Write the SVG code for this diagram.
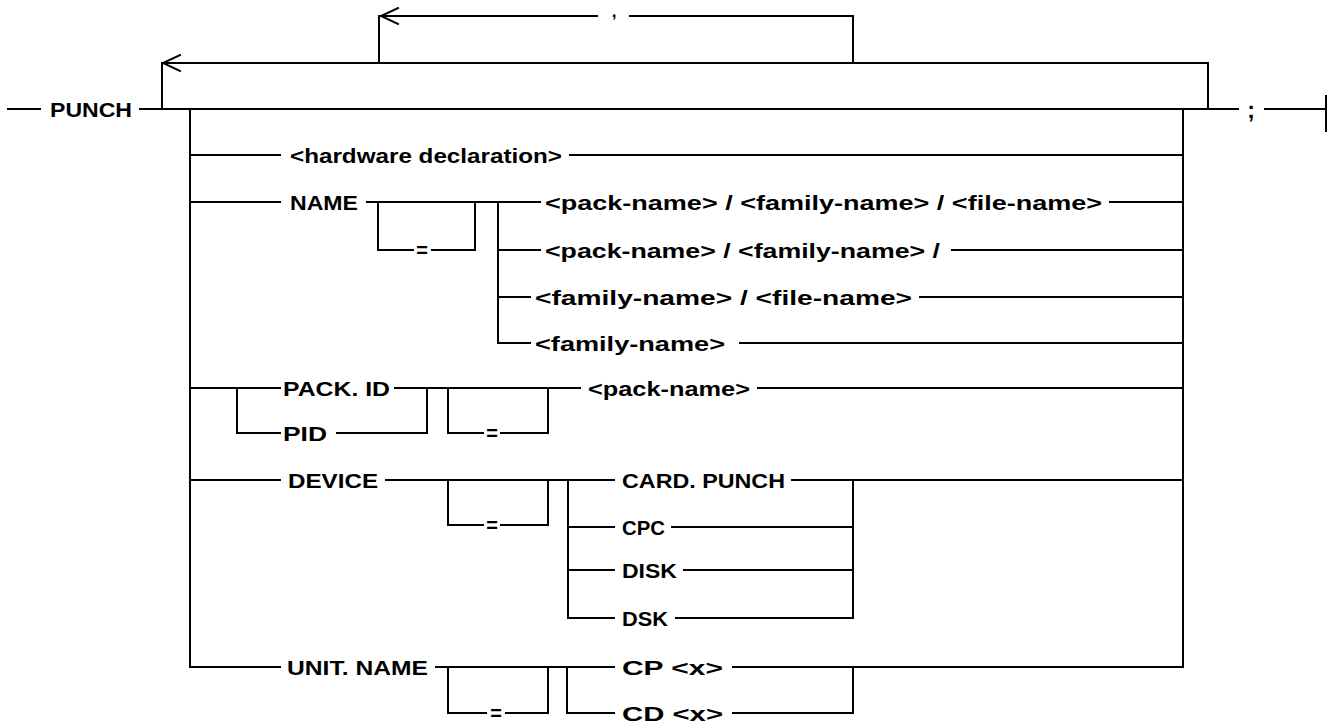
<svg xmlns="http://www.w3.org/2000/svg" width="1327" height="724" viewBox="0 0 1327 724">
<style>
.ln{stroke:#000;stroke-width:2;fill:none;stroke-linecap:square}
.t{font-family:"Liberation Sans",Arial,Helvetica,sans-serif;font-weight:bold;font-size:21px;fill:#000}
.eq{font-family:"Liberation Sans",Arial,Helvetica,sans-serif;font-weight:bold;font-size:20px;fill:#000;text-anchor:middle}
.p{font-family:"Liberation Sans",Arial,Helvetica,sans-serif;font-weight:bold;font-size:23px;fill:#000;text-anchor:middle}
</style>
<rect width="1327" height="724" fill="#fff"/>
<g id="connectors">
<path class="ln" d="M8 109H40M140 109H1208M1208 109H1238M1265 109H1326M1326 96V131"/>
<path class="ln" d="M1208 109V63H162V109"/>
<path class="ln" d="M180 55L163 63L180 71"/>
<path class="ln" d="M853 63V16H630M597 16H379V63"/>
<path class="ln" d="M398 8L381 16L398 24"/>
<path class="ln" d="M190 109V667M1183 109V667"/>
<path class="ln" d="M190 155H280M570 155H1183"/>
<path class="ln" d="M190 202H280M367 202H540M378 202V250H413M432 250H475V202M498 202V343M498 250H540M498 297H530M498 343H530M1110 202H1183M952 250H1183M920 297H1183M740 343H1183"/>
<path class="ln" d="M190 388H280M395 388H580M237 388V433H280M337 433H427V388M448 388V433H483M501 433H548V388M758 388H1183"/>
<path class="ln" d="M190 480H280M386 480H614M448 480V525H483M501 525H548V480M568 480V618M568 527H614M568 570H614M568 618H614M792 480H1183M672 527H853M684 570H853M676 618H853M853 480V618"/>
<path class="ln" d="M190 667H280M436 667H614M448 667V713H486M506 713H548V667M567 667V713H614M733 667H1183M733 713H853V667"/>
</g>
<g id="n-punch"><text class="t" x="50" y="117" textLength="82" lengthAdjust="spacingAndGlyphs">PUNCH</text></g>
<g id="n-comma"><text class="p" x="614" y="17" style="font-size:17px">,</text></g>
<g id="n-semicolon"><text class="p" x="1251" y="118">;</text></g>
<g id="n-hardware"><text class="t" x="290" y="163" textLength="272" lengthAdjust="spacingAndGlyphs">&lt;hardware declaration&gt;</text></g>
<g id="n-name"><text class="t" x="290" y="210" textLength="68" lengthAdjust="spacingAndGlyphs">NAME</text></g>
<g id="n-name-eq"><text class="eq" x="422" y="257">=</text></g>
<g id="n-pfn"><text class="t" x="545" y="210" textLength="557" lengthAdjust="spacingAndGlyphs">&lt;pack-name&gt; / &lt;family-name&gt; / &lt;file-name&gt;</text></g>
<g id="n-pf"><text class="t" x="545" y="258" textLength="395" lengthAdjust="spacingAndGlyphs">&lt;pack-name&gt; / &lt;family-name&gt; /</text></g>
<g id="n-fn"><text class="t" x="535" y="305" textLength="377" lengthAdjust="spacingAndGlyphs">&lt;family-name&gt; / &lt;file-name&gt;</text></g>
<g id="n-f"><text class="t" x="535" y="351" textLength="190" lengthAdjust="spacingAndGlyphs">&lt;family-name&gt;</text></g>
<g id="n-packid"><text class="t" x="283" y="396" textLength="107" lengthAdjust="spacingAndGlyphs">PACK. ID</text></g>
<g id="n-pid"><text class="t" x="283" y="441" textLength="44" lengthAdjust="spacingAndGlyphs">PID</text></g>
<g id="n-pack-eq"><text class="eq" x="492" y="440">=</text></g>
<g id="n-packname"><text class="t" x="588" y="396" textLength="162" lengthAdjust="spacingAndGlyphs">&lt;pack-name&gt;</text></g>
<g id="n-device"><text class="t" x="288" y="488" textLength="90" lengthAdjust="spacingAndGlyphs">DEVICE</text></g>
<g id="n-device-eq"><text class="eq" x="492" y="532">=</text></g>
<g id="n-cardpunch"><text class="t" x="622" y="488" textLength="163" lengthAdjust="spacingAndGlyphs">CARD. PUNCH</text></g>
<g id="n-cpc"><text class="t" x="622" y="535" textLength="43" lengthAdjust="spacingAndGlyphs">CPC</text></g>
<g id="n-disk"><text class="t" x="622" y="578" textLength="55" lengthAdjust="spacingAndGlyphs">DISK</text></g>
<g id="n-dsk"><text class="t" x="622" y="626" textLength="46" lengthAdjust="spacingAndGlyphs">DSK</text></g>
<g id="n-unitname"><text class="t" x="287" y="675" textLength="141" lengthAdjust="spacingAndGlyphs">UNIT. NAME</text></g>
<g id="n-unit-eq"><text class="eq" x="496" y="720">=</text></g>
<g id="n-cp"><text class="t" x="622" y="675" textLength="101" lengthAdjust="spacingAndGlyphs">CP &lt;x&gt;</text></g>
<g id="n-cd"><text class="t" x="622" y="721" textLength="101" lengthAdjust="spacingAndGlyphs">CD &lt;x&gt;</text></g>
</svg>
